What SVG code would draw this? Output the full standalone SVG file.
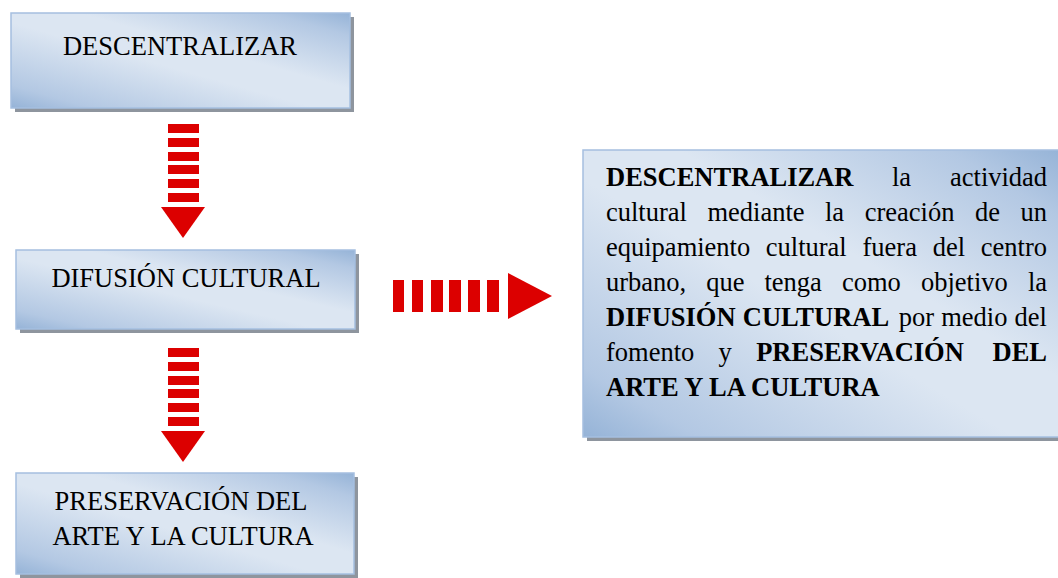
<svg xmlns="http://www.w3.org/2000/svg" width="1058" height="578" viewBox="0 0 1058 578">
<defs>
<linearGradient id="bg" x1="0" y1="1" x2="1" y2="0">
<stop offset="0" stop-color="#95b3d7"/>
<stop offset="0.12" stop-color="#b3c8e3"/>
<stop offset="0.45" stop-color="#dce6f2"/>
<stop offset="0.6" stop-color="#dce6f2"/>
<stop offset="0.88" stop-color="#b3c8e3"/>
<stop offset="1" stop-color="#95b3d7"/>
</linearGradient>
<style>
.shadow{fill:#8e959e}
.box{fill:url(#bg);stroke:#a5bfe0;stroke-width:1.5}
.t{font-family:"Liberation Serif","Times New Roman",serif;font-size:26.5px;fill:#000}
.c{text-anchor:middle}
.b{font-weight:bold}
.ar{fill:#dc0000}
</style>
</defs>

<g id="node-descentralizar">
<rect class="shadow" x="15" y="17" width="339" height="95"/>
<rect class="box" x="11" y="13" width="339" height="95"/>
<text class="t c" x="180" y="55">DESCENTRALIZAR</text>
</g>

<g id="node-difusion">
<rect class="shadow" x="20" y="254" width="339" height="79"/>
<rect class="box" x="16" y="250" width="339" height="79"/>
<text class="t c" x="186" y="287">DIFUSIÓN CULTURAL</text>
</g>

<g id="node-preservacion">
<rect class="shadow" x="20" y="477" width="338" height="101"/>
<rect class="box" x="16" y="473" width="338" height="101"/>
<text class="t c" x="181" y="510">PRESERVACIÓN DEL</text>
<text class="t c" x="183" y="545">ARTE Y LA CULTURA</text>
</g>

<g id="node-summary">
<rect class="shadow" x="587" y="154" width="480" height="287"/>
<rect class="box" x="583" y="150" width="480" height="287"/>
<text class="t">
<tspan class="b" x="606" y="186">DESCENTRALIZAR</tspan>
<tspan x="892" y="186">la</tspan>
<tspan x="950" y="186">actividad</tspan>
</text>
<text class="t">
<tspan x="606" y="221">cultural</tspan>
<tspan x="707.5" y="221">mediante</tspan>
<tspan x="825" y="221">la</tspan>
<tspan x="864.7" y="221">creación</tspan>
<tspan x="975" y="221">de</tspan>
<tspan x="1020.5" y="221">un</tspan>
</text>
<text class="t">
<tspan x="606" y="256">equipamiento</tspan>
<tspan x="765.8" y="256">cultural</tspan>
<tspan x="862.5" y="256">fuera</tspan>
<tspan x="932.7" y="256">del</tspan>
<tspan x="980.8" y="256">centro</tspan>
</text>
<text class="t">
<tspan x="606" y="291">urbano,</tspan>
<tspan x="706.2" y="291">que</tspan>
<tspan x="764.5" y="291">tenga</tspan>
<tspan x="842" y="291">como</tspan>
<tspan x="921" y="291">objetivo</tspan>
<tspan x="1028" y="291">la</tspan>
</text>
<text class="t">
<tspan class="b" x="606" y="326">DIFUSIÓN</tspan>
<tspan class="b" x="742.8" y="326">CULTURAL</tspan>
<tspan x="898.7" y="326">por</tspan>
<tspan x="941.2" y="326">medio</tspan>
<tspan x="1014.6" y="326">del</tspan>
</text>
<text class="t">
<tspan x="606" y="361">fomento</tspan>
<tspan x="718.6" y="361">y</tspan>
<tspan class="b" x="756.2" y="361">PRESERVACIÓN</tspan>
<tspan class="b" x="992.5" y="361">DEL</tspan>
</text>
<text class="t b" x="606" y="396">ARTE Y LA CULTURA</text>
</g>

<g id="connectors">
<g id="arrow-down-1" class="ar">
<rect x="168" y="124" width="31" height="9"/>
<rect x="168" y="138" width="31" height="9"/>
<rect x="168" y="152" width="31" height="9"/>
<rect x="168" y="165" width="31" height="9"/>
<rect x="168" y="179" width="31" height="9"/>
<rect x="168" y="193" width="31" height="9"/>
<polygon points="161,207 205,207 183,238"/>
</g>
<g id="arrow-down-2" class="ar" transform="translate(0,224)">
<rect x="168" y="124" width="31" height="9"/>
<rect x="168" y="138" width="31" height="9"/>
<rect x="168" y="152" width="31" height="9"/>
<rect x="168" y="165" width="31" height="9"/>
<rect x="168" y="179" width="31" height="9"/>
<rect x="168" y="193" width="31" height="9"/>
<polygon points="161,207 205,207 183,238"/>
</g>
<g id="arrow-right" class="ar">
<rect x="393" y="280" width="11" height="32"/>
<rect x="412" y="280" width="11" height="32"/>
<rect x="431" y="280" width="12" height="32"/>
<rect x="449" y="280" width="12" height="32"/>
<rect x="468" y="280" width="12" height="32"/>
<rect x="487" y="280" width="12" height="32"/>
<polygon points="508,273 508,319 552,296"/>
</g>
</g>
</svg>
